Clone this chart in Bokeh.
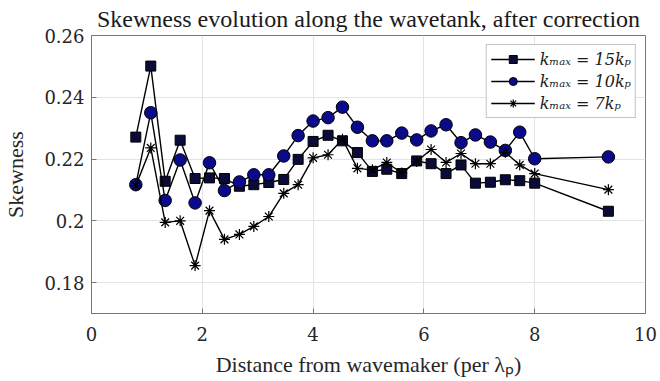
from bokeh.plotting import figure
from bokeh.models import Range1d, FixedTicker, Legend, LegendItem
from bokeh.embed import file_html
from bokeh.resources import INLINE

# ---- data ----
distance = [0.8, 1.07, 1.33, 1.6, 1.87, 2.13, 2.4, 2.67, 2.93, 3.2, 3.47, 3.73,
            4.0, 4.27, 4.53, 4.8, 5.07, 5.33, 5.6, 5.87, 6.13, 6.4, 6.67, 6.93,
            7.2, 7.47, 7.73, 8.0, 9.33]
skew_15kp = [0.2271, 0.2501, 0.2128, 0.2261, 0.2137, 0.2139, 0.2137, 0.2112, 0.2117,
             0.2124, 0.2134, 0.2199, 0.2257, 0.2277, 0.2259, 0.2221, 0.2160, 0.2167,
             0.2153, 0.2194, 0.2185, 0.2153, 0.2181, 0.2122, 0.2125, 0.2133, 0.2130,
             0.2122, 0.2031]
skew_10kp = [0.2117, 0.2350, 0.2066, 0.2197, 0.2058, 0.2188, 0.2098, 0.2126, 0.2149,
             0.2149, 0.2210, 0.2276, 0.2323, 0.2334, 0.2368, 0.2303, 0.2259, 0.2259,
             0.2284, 0.2262, 0.2291, 0.2311, 0.2253, 0.2278, 0.2255, 0.2228, 0.2287,
             0.2201, 0.2207]
skew_7kp = [0.2114, 0.2236, 0.1995, 0.2000, 0.1855, 0.2033, 0.1940, 0.1956, 0.1982,
            0.2014, 0.2089, 0.2117, 0.2204, 0.2214, 0.2264, 0.2170, 0.2165, 0.2189,
            0.2155, 0.2192, 0.2231, 0.2189, 0.2218, 0.2185, 0.2185, 0.2222, 0.2181,
            0.2153, 0.2101]
series_labels = ["kₘₐₓ = 15kₚ", "kₘₐₓ = 10kₚ", "kₘₐₓ = 7kₚ"]
xtick_vals = [0, 2, 4, 6, 8, 10]
ytick_vals = [0.18, 0.2, 0.22, 0.24, 0.26]
ytick_labels = ["0.18", "0.2", "0.22", "0.24", "0.26"]

FONT = "Liberation Serif"
TICK_FONT = "DejaVu Serif"

p = figure(width=660, height=381, output_backend="svg", toolbar_location=None,
           x_range=Range1d(0, 10), y_range=Range1d(0.17, 0.26),
           min_border_left=85, min_border_right=15, min_border_top=34,
           min_border_bottom=68,
           title="Skewness evolution along the wavetank, after correction")

p.title.text_font = FONT
p.title.text_font_size = "24px"
p.title.text_font_style = "normal"
p.title.align = "center"
p.title.text_color = "#1a1a1a"
p.title.standoff = 7

p.outline_line_color = "#777777"
p.outline_line_width = 1
p.background_fill_color = "white"
p.border_fill_color = "white"

for ax in (p.xaxis[0], p.yaxis[0]):
    ax.axis_line_color = "#777777"
    ax.major_tick_line_color = "#777777"
    ax.minor_tick_line_color = None
    ax.major_tick_in = 5
    ax.major_tick_out = 0
    ax.major_label_text_font = TICK_FONT
    ax.major_label_text_font_size = "18px"
    ax.major_label_text_color = "#262626"
    ax.axis_label_text_font = FONT
    ax.axis_label_text_font_size = "22px"
    ax.axis_label_text_font_style = "normal"
    ax.axis_label_text_color = "#262626"

p.xaxis.ticker = FixedTicker(ticks=xtick_vals)
p.yaxis.ticker = FixedTicker(ticks=ytick_vals)
p.yaxis.major_label_overrides = dict(zip(ytick_vals, ytick_labels))
p.xaxis.axis_label = "Distance from wavemaker (per λₚ)"
p.yaxis.axis_label = "Skewness"
p.xaxis.major_label_standoff = 13
p.yaxis.major_label_standoff = 7
p.xaxis.axis_label_standoff = 8
p.yaxis.axis_label_standoff = 13

p.grid.grid_line_color = "#e3e3e3"
p.grid.grid_line_width = 1

l1 = p.line(distance, skew_15kp, line_color="black", line_width=1.4)
m1 = p.scatter(distance, skew_15kp, marker="square", size=10,
               fill_color="#0b0b3a", line_color="black", line_width=1)
l2 = p.line(distance, skew_10kp, line_color="black", line_width=1.4)
m2 = p.scatter(distance, skew_10kp, marker="circle", size=12.5,
               fill_color="#0a0a8a", line_color="black", line_width=1)
l3 = p.line(distance, skew_7kp, line_color="black", line_width=1.4)
m3 = p.scatter(distance, skew_7kp, marker="asterisk", size=11,
               line_color="black", line_width=1.2)

legend = Legend(items=[LegendItem(label=series_labels[0], renderers=[l1, m1]),
                       LegendItem(label=series_labels[1], renderers=[l2, m2]),
                       LegendItem(label=series_labels[2], renderers=[l3, m3])],
                location="top_right")
legend.label_text_font = TICK_FONT
legend.label_text_font_size = "16px"
legend.label_text_font_style = "italic"
legend.label_text_color = "#1a1a1a"
legend.border_line_color = "#888888"
legend.border_line_width = 1
legend.background_fill_color = "white"
legend.background_fill_alpha = 1
legend.glyph_width = 44
legend.glyph_height = 20
legend.label_height = 20
legend.label_standoff = 5
legend.spacing = 2
legend.padding = 4
legend.margin = 9
p.add_layout(legend)

open("out.html", "w").write(file_html(p, INLINE))
